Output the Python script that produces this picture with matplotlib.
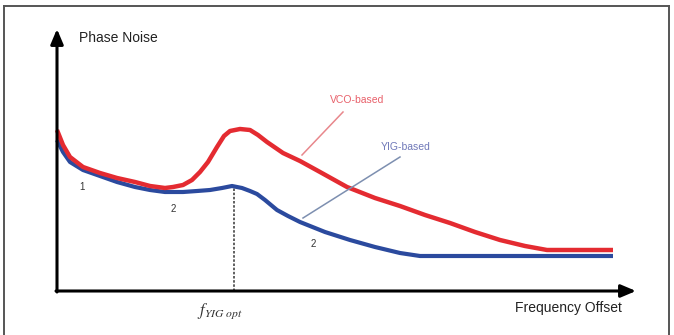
import matplotlib
matplotlib.use('Agg')
import matplotlib.pyplot as plt
from matplotlib.lines import Line2D

plt.rcParams['font.family'] = ['Liberation Sans', 'DejaVu Sans']
plt.rcParams['mathtext.fontset'] = 'stix'

# curves, x = frequency offset, y = phase noise (arbitrary units)
vco_x = [0, 6, 13, 26, 43, 60, 78, 93, 108, 116, 126, 135, 143, 151, 160, 167, 173, 183,
         193, 201, 210, 226, 243, 263, 290, 318, 343, 368, 393, 418, 443, 468, 490, 523, 556]
vco_y = [161, 146, 134, 124, 118, 113, 109, 105, 103, 104, 106, 111, 119, 129, 144, 155, 160, 162,
         161, 156, 149, 138, 130, 119, 104, 93, 85, 76, 68, 59, 51, 45, 41, 41, 41]
yig_x = [0, 6, 13, 26, 43, 60, 78, 93, 108, 126, 140, 153, 165, 175, 185, 193, 200, 208,
         220, 231, 243, 268, 293, 318, 343, 363, 393, 556]
yig_y = [151, 139, 129, 121, 115, 109, 104, 101, 99, 99, 100, 101, 103, 105, 103, 100, 97, 91,
         81, 75, 69, 59, 51, 44, 38, 35, 35, 35]

f_opt = 177
f_opt_level = 105
tag_labels = ['1', '2', '2']
tag_x = [25, 116, 256]
tag_y = [104, 82, 47]

fig = plt.figure(figsize=(6.74, 3.35), dpi=100)
ax = fig.add_axes([0, 0, 1, 1])
ax.set_xlim(-57, 617)
ax.set_ylim(-44, 291)
ax.axis('off')

# frame around the picture
frame_kw = dict(color='#555555', lw=1.4, transform=fig.transFigure)
fig.add_artist(Line2D([0.006, 0.993], [0.982, 0.982], **frame_kw))
fig.add_artist(Line2D([0.006, 0.006], [0.0, 0.982], **frame_kw))
fig.add_artist(Line2D([0.993, 0.993], [0.0, 0.982], **frame_kw))

# axes with arrows
arrow_kw = dict(arrowstyle='-|>,head_length=0.9,head_width=0.38', lw=2.2, color='black',
                shrinkA=0, shrinkB=0)
ax.annotate('', xy=(0, 262), xytext=(0, -1), arrowprops=arrow_kw)
ax.annotate('', xy=(579, 0), xytext=(-1, 0), arrowprops=arrow_kw)

ax.plot([f_opt, f_opt], [0, f_opt_level], color='#444444', lw=1.2, ls=(0, (1.5, 1)))

ax.plot(yig_x, yig_y, color='#2b4a9e', lw=3, solid_joinstyle='round', solid_capstyle='butt')
ax.plot(vco_x, vco_y, color='#e42b31', lw=3.2, solid_joinstyle='round', solid_capstyle='butt')

# callouts
ax.plot([286, 245], [179, 136], color='#e8878c', lw=1.1)
ax.plot([343, 246], [134, 73], color='#7d8fb0', lw=1.1)
ax.text(300, 191, 'VCO-based', color='#e8606a', fontsize=7.5, ha='center', va='center')
ax.text(349, 144, 'YIG-based', color='#6f78b8', fontsize=7.5, ha='center', va='center')

for lab, tx, ty in zip(tag_labels, tag_x, tag_y):
    ax.text(tx, ty, lab, color='#333333', fontsize=7, ha='center', va='center')

ax.text(22, 253, 'Phase Noise', fontsize=10, ha='left', va='center', color='#222222')
ax.text(565, -17, 'Frequency Offset', fontsize=10, ha='right', va='center', color='#222222')
ax.text(f_opt - 14, -20, r'$f_{\mathit{YIG\ opt}}$', fontsize=12, ha='center', va='center',
        color='#333333')

fig.savefig('out.png', dpi=100, facecolor='white')
